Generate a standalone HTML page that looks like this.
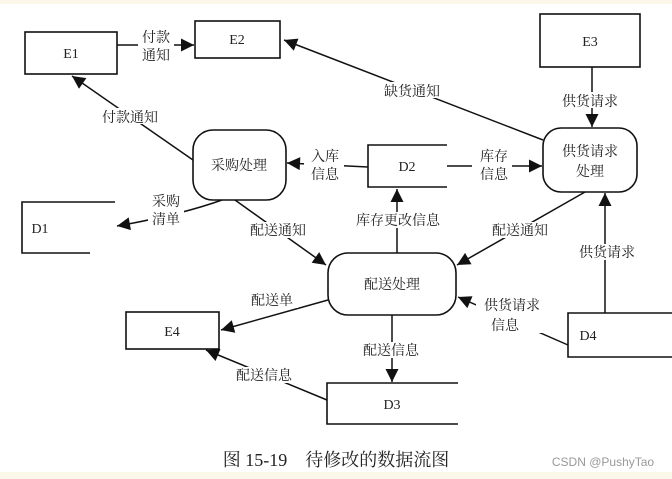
<!DOCTYPE html>
<html><head><meta charset="utf-8"><style>
html,body{margin:0;padding:0;background:#fff;}
svg{display:block;}
text{font-family:"Liberation Serif","Noto Serif CJK SC",serif;font-size:14px;fill:#222;}
.c{text-anchor:middle;}
</style></head><body>
<svg width="672" height="479" viewBox="0 0 672 479" xmlns="http://www.w3.org/2000/svg">
<defs><marker id="a" viewBox="0 0 10 10" refX="10" refY="5" markerWidth="10" markerHeight="9" orient="auto" markerUnits="userSpaceOnUse"><path d="M0,0 L10,5 L0,10 z" fill="#111"/></marker>
<marker id="b" viewBox="0 0 10 10" refX="10" refY="5" markerWidth="16" markerHeight="13" orient="auto" markerUnits="userSpaceOnUse"><path d="M0,0 L10,5 L0,10 z" fill="#111"/></marker></defs>
<rect x="0" y="0" width="672" height="4" fill="#fbf8ea"/>
<rect x="0" y="472" width="672" height="7" fill="#fbf8ea"/>
<g stroke="#111" stroke-width="1.6" fill="none">
<rect x="25" y="32" width="92" height="42"/>
<rect x="195" y="21" width="85" height="37"/>
<rect x="540" y="14" width="100" height="53"/>
<rect x="126" y="312" width="93" height="37"/>
<rect x="193" y="130" width="93" height="70" rx="20"/>
<rect x="543" y="128" width="94" height="64" rx="18"/>
<rect x="328" y="253" width="128" height="62" rx="20"/>
<path d="M447,145 H368 V187 H447"/>
<path d="M115,202 H22 V253 H90"/>
<path d="M458,383 H327 V424 H458"/>
<path d="M672,313 H568 V357 H672"/>
</g>
<g stroke="#111" stroke-width="1.5" fill="none" marker-end="url(#b)">
<line x1="117" y1="45" x2="194" y2="45"/>
<line x1="193" y1="160" x2="72" y2="76"/>
<line x1="543" y1="140" x2="284" y2="40"/>
<line x1="592" y1="67" x2="592" y2="127"/>
<line x1="368" y1="167" x2="287" y2="163"/>
<line x1="447" y1="166" x2="542" y2="166"/>
<path d="M222,200 Q180,215 117,226"/>
<line x1="235" y1="200" x2="326" y2="265"/>
<line x1="397" y1="253" x2="397" y2="189"/>
<line x1="585" y1="192" x2="457" y2="265"/>
<line x1="605" y1="313" x2="605" y2="193"/>
<line x1="568" y1="345" x2="458" y2="297"/>
<line x1="328" y1="300" x2="221" y2="330"/>
<line x1="392" y1="315" x2="392" y2="382"/>
<line x1="327" y1="400" x2="206" y2="350"/>
</g>
<g>
<text x="71" y="58" class="c">E1</text>
<text x="237" y="44" class="c">E2</text>
<text x="590" y="46" class="c">E3</text>
<text x="172" y="336" class="c">E4</text>
<text x="407" y="171" class="c">D2</text>
<text x="40" y="233" class="c">D1</text>
<text x="392" y="409" class="c">D3</text>
<text x="588" y="340" class="c">D4</text>
<text x="239" y="170" class="c">采购处理</text>
<text x="590" y="156" class="c">供货请求</text>
<text x="590" y="176" class="c">处理</text>
<text x="392" y="289" class="c">配送处理</text>
</g>
<g fill="#fff">
<rect x="138" y="28" width="36" height="34"/><rect x="96" y="108" width="70" height="16"/>
<rect x="376" y="82" width="72" height="16"/><rect x="555" y="92" width="70" height="16"/>
<rect x="304" y="148" width="40" height="34"/><rect x="472" y="148" width="40" height="34"/>
<rect x="148" y="193" width="36" height="34"/><rect x="244" y="222" width="68" height="16"/>
<rect x="348" y="212" width="100" height="16"/><rect x="486" y="222" width="68" height="16"/>
<rect x="574" y="244" width="66" height="16"/><rect x="476" y="297" width="72" height="36"/>
<rect x="246" y="292" width="52" height="16"/><rect x="356" y="342" width="70" height="16"/>
<rect x="230" y="367" width="68" height="16"/>
</g>
<g>
<text x="156" y="42" class="c">付款</text><text x="156" y="60" class="c">通知</text>
<text x="130" y="122" class="c">付款通知</text>
<text x="412" y="96" class="c">缺货通知</text>
<text x="590" y="106" class="c">供货请求</text>
<text x="325" y="161" class="c">入库</text><text x="325" y="179" class="c">信息</text>
<text x="494" y="161" class="c">库存</text><text x="494" y="179" class="c">信息</text>
<text x="166" y="206" class="c">采购</text><text x="166" y="224" class="c">清单</text>
<text x="278" y="235" class="c">配送通知</text>
<text x="398" y="225" class="c">库存更改信息</text>
<text x="520" y="235" class="c">配送通知</text>
<text x="607" y="257" class="c">供货请求</text>
<text x="512" y="310" class="c">供货请求</text><text x="505" y="330" class="c">信息</text>
<text x="272" y="305" class="c">配送单</text>
<text x="391" y="355" class="c">配送信息</text>
<text x="264" y="380" class="c">配送信息</text>
<text x="336" y="466" class="c" style="font-size:18px">图 15-19　待修改的数据流图</text>
<text x="603" y="466" class="c" style="font-family:'Liberation Sans',sans-serif;font-size:12px;fill:#999">CSDN @PushyTao</text>
</g>
</svg>
</body></html>
